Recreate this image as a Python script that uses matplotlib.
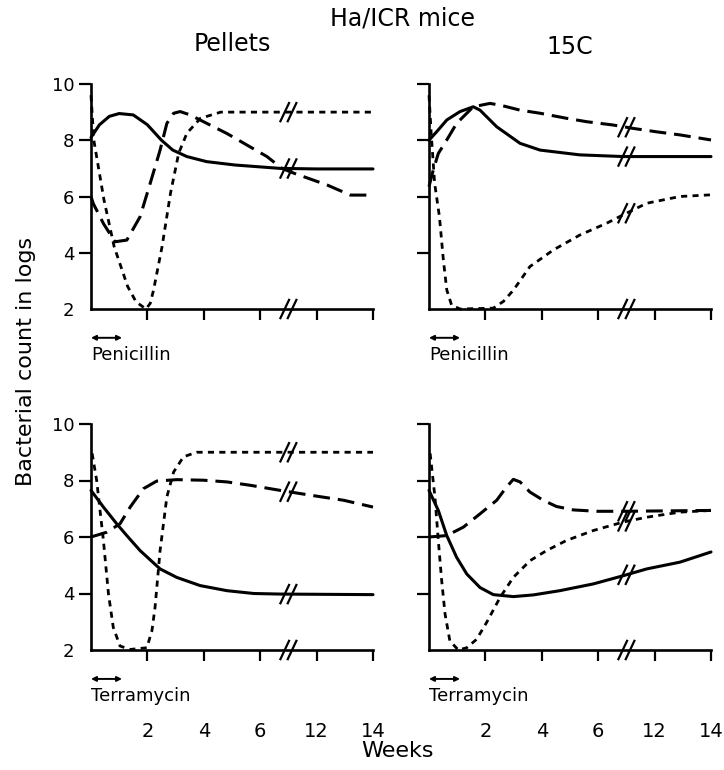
import matplotlib
matplotlib.use("Agg")
import matplotlib.pyplot as plt
import numpy as np

plt.rcParams['font.family'] = ['DejaVu Sans']

# ---------------- data (real weeks, log bacterial count) ----------------
# Pellets / Penicillin
pp_solid_w = [0, 0.3, 0.65, 1.0, 1.5, 2.0, 2.5, 2.9, 3.4, 4.1, 5.1, 6.7, 12, 14]
pp_solid_v = [8.1, 8.55, 8.85, 8.95, 8.9, 8.55, 8.0, 7.65, 7.42, 7.24, 7.12, 7.0, 6.98, 6.98]
pp_dash_w = [0, 0.08, 0.44, 0.85, 1.27, 1.74, 2.1, 2.45, 2.69, 2.93, 3.16, 3.52, 3.87, 4.82, 5.53, 6.24, 6.77, 11.19, 12.37, 13.2, 14]
pp_dash_v = [6.0, 5.75, 5.04, 4.39, 4.45, 5.28, 6.47, 7.65, 8.6, 8.96, 9.02, 8.9, 8.72, 8.24, 7.83, 7.42, 7.0, 6.83, 6.41, 6.05, 6.05]
pp_dot_w = [0, 0.1, 0.46, 0.82, 1.3, 1.6, 1.95, 2.1, 2.22, 2.52, 2.82, 3.11, 3.4, 3.88, 4.6, 12, 14]
pp_dot_v = [9.6, 8.0, 5.88, 4.22, 2.8, 2.25, 2.0, 2.2, 2.68, 4.22, 6.12, 7.54, 8.25, 8.78, 9.0, 9.0, 9.0]

# 15C / Penicillin
cp_solid_w = [0, 0.27, 0.63, 1.1, 1.57, 1.81, 2.4, 3.23, 3.94, 5.35, 6.89, 14]
cp_solid_v = [8.0, 8.3, 8.72, 9.02, 9.19, 9.07, 8.48, 7.89, 7.65, 7.48, 7.42, 7.42]
cp_dash_w = [0, 0.15, 0.33, 0.63, 0.98, 1.34, 1.57, 2.16, 2.52, 3.23, 3.94, 4.88, 5.59, 6.54, 11.25, 12.07, 12.9, 14]
cp_dash_v = [6.35, 6.94, 7.53, 8.01, 8.6, 8.96, 9.19, 9.31, 9.25, 9.07, 8.96, 8.78, 8.66, 8.54, 8.42, 8.3, 8.19, 8.01]
cp_dot_w = [0, 0.08, 0.2, 0.37, 0.51, 0.63, 0.8, 1.1, 2.28, 2.64, 3.0, 3.58, 4.41, 5.35, 6.3, 6.89, 11.72, 12.9, 14]
cp_dot_v = [9.6, 8.2, 6.47, 5.28, 3.74, 2.68, 2.14, 2.0, 2.03, 2.27, 2.68, 3.51, 4.1, 4.63, 5.05, 5.35, 5.76, 6.0, 6.06]

# Pellets / Terramycin
pt_solid_w = [0, 0.44, 0.91, 1.27, 1.74, 2.45, 3.04, 3.87, 4.82, 5.77, 6.71, 14]
pt_solid_v = [7.65, 7.06, 6.47, 6.05, 5.52, 4.87, 4.57, 4.28, 4.1, 4.0, 3.98, 3.96]
pt_dash_w = [0, 0.56, 1.03, 1.39, 1.86, 2.33, 3.04, 3.99, 4.82, 5.65, 6.71, 11.78, 12.96, 14]
pt_dash_v = [6.0, 6.17, 6.47, 7.06, 7.71, 7.98, 8.03, 8.01, 7.95, 7.83, 7.65, 7.48, 7.3, 7.06]
pt_dot_w = [0.04, 0.2, 0.32, 0.44, 0.62, 0.79, 1.03, 1.39, 1.98, 2.16, 2.27, 2.45, 2.69, 2.93, 3.28, 3.75, 14]
pt_dot_v = [8.96, 8.01, 6.94, 5.88, 3.98, 2.8, 2.14, 2.02, 2.08, 2.68, 3.5, 5.52, 7.42, 8.3, 8.84, 9.0, 9.0]

# 15C / Terramycin
ct_solid_w = [0, 0.33, 0.63, 0.98, 1.34, 1.81, 2.28, 2.99, 3.7, 4.64, 5.83, 6.89, 11.72, 12.9, 14]
ct_solid_v = [7.65, 6.94, 6.05, 5.28, 4.69, 4.21, 3.96, 3.89, 3.95, 4.1, 4.34, 4.63, 4.87, 5.11, 5.47]
ct_dash_w = [0, 0.63, 1.22, 1.81, 2.4, 2.75, 2.99, 3.23, 3.58, 4.05, 4.52, 5.11, 5.94, 6.89, 14]
ct_dash_v = [6.0, 6.05, 6.35, 6.82, 7.3, 7.77, 8.04, 7.95, 7.59, 7.3, 7.08, 6.96, 6.91, 6.91, 6.94]
ct_dot_w = [0.04, 0.21, 0.33, 0.45, 0.57, 0.74, 1.04, 1.34, 1.69, 2.04, 2.52, 2.99, 3.58, 4.17, 4.88, 5.83, 6.89, 11.72, 12.9, 14]
ct_dot_v = [8.96, 7.42, 5.88, 4.45, 3.27, 2.32, 2.0, 2.08, 2.38, 2.97, 3.86, 4.57, 5.16, 5.52, 5.88, 6.23, 6.53, 6.7, 6.88, 6.94]

tick_weeks = [2, 4, 6, 12, 14]
tick_labels = ["2", "4", "6", "12", "14"]
y_ticks = [2, 4, 6, 8, 10]

BREAK_FROM, BREAK_TO = 7, 11   # axis break: weeks 7..11 collapsed


def pos(w):
    w = np.asarray(w, dtype=float)
    return np.where(w <= BREAK_FROM, w, w - (BREAK_TO - BREAK_FROM))


W, H = 724, 770
fig = plt.figure(figsize=(W / 100, H / 100), dpi=100)


def fx(px):
    return px / W


def fy(py):
    return 1 - py / H


panels = [
    (91, 84, 309, (pp_solid_w, pp_solid_v, pp_dash_w, pp_dash_v, pp_dot_w, pp_dot_v), True, False, "Penicillin"),
    (429, 84, 309, (cp_solid_w, cp_solid_v, cp_dash_w, cp_dash_v, cp_dot_w, cp_dot_v), False, False, "Penicillin"),
    (91, 424, 650, (pt_solid_w, pt_solid_v, pt_dash_w, pt_dash_v, pt_dot_w, pt_dot_v), True, True, "Terramycin"),
    (429, 424, 650, (ct_solid_w, ct_solid_v, ct_dash_w, ct_dash_v, ct_dot_w, ct_dot_v), False, True, "Terramycin"),
]

LW = 2.2


def draw_break(ax, p, v):
    dx, dy = 0.17, 0.36
    for off in (-0.13, 0.13):
        ax.plot([p + off - dx, p + off + dx], [v - dy, v + dy], color='black',
                lw=1.6, solid_capstyle='butt', clip_on=False, zorder=5)


for (lpx, tpy, bpy, data, ylab, xlab, drug) in panels:
    ax = fig.add_axes([fx(lpx), fy(bpy), fx(282), (bpy - tpy) / H])
    sw, sv, dw, dv, ow, ov = data
    ax.plot(pos(sw), sv, color='black', lw=LW, solid_capstyle='round',
            solid_joinstyle='round', clip_on=False)
    ax.plot(pos(dw), dv, color='black', lw=LW, dashes=(5.5, 2.6),
            dash_joinstyle='round', clip_on=False)
    ax.plot(pos(ow), ov, color='black', lw=2.0, dashes=(2.2, 1.9),
            dash_joinstyle='round', clip_on=False)

    marks = []
    for ww, vv in ((sw, sv), (dw, dv), (ow, ov)):
        val = float(np.interp(BREAK_FROM, pos(ww), vv))
        if all(abs(val - m) > 0.3 for m in marks):
            marks.append(val)
    for m in marks:
        draw_break(ax, BREAK_FROM, m)
    draw_break(ax, BREAK_FROM, 2.0)

    ax.set_xlim(0, 10)
    ax.set_ylim(2, 10)
    for s in ('top', 'right'):
        ax.spines[s].set_visible(False)
    for s in ('left', 'bottom'):
        ax.spines[s].set_linewidth(1.9)
    ax.set_xticks(pos(tick_weeks))
    ax.set_yticks(y_ticks)
    ax.tick_params(axis='x', direction='out', length=8, width=1.6, pad=44,
                   labelsize=14)
    ax.tick_params(axis='y', direction='out', length=9, width=1.6, pad=3,
                   labelsize=13)
    ax.yaxis.get_major_ticks()[0].tick1line.set_visible(False)
    if xlab:
        ax.set_xticklabels(tick_labels)
    else:
        ax.set_xticklabels([])
    if ylab:
        ax.set_yticklabels([str(t) for t in y_ticks])
    else:
        ax.set_yticklabels([])

    tr = ax.get_xaxis_transform()
    ax.annotate("", xy=(1.1, -0.128), xytext=(0, -0.128), xycoords=tr, textcoords=tr,
                arrowprops=dict(arrowstyle='<|-|>', color='black', lw=1.4,
                                mutation_scale=7, shrinkA=0, shrinkB=0),
                annotation_clip=False)
    ax.text(0, -0.205, drug, transform=tr, ha='left', va='center', fontsize=13)

fig.text(fx(402), fy(18), "Ha/ICR mice", ha='center', va='center', fontsize=17)
fig.text(fx(232), fy(44), "Pellets", ha='center', va='center', fontsize=17)
fig.text(fx(570), fy(47), "15C", ha='center', va='center', fontsize=17)
fig.text(fx(26), fy(361), "Bacterial count in logs", ha='center', va='center',
         rotation=90, fontsize=16)
fig.text(fx(398), fy(751), "Weeks", ha='center', va='center', fontsize=16)

fig.savefig("out.png", dpi=100)
